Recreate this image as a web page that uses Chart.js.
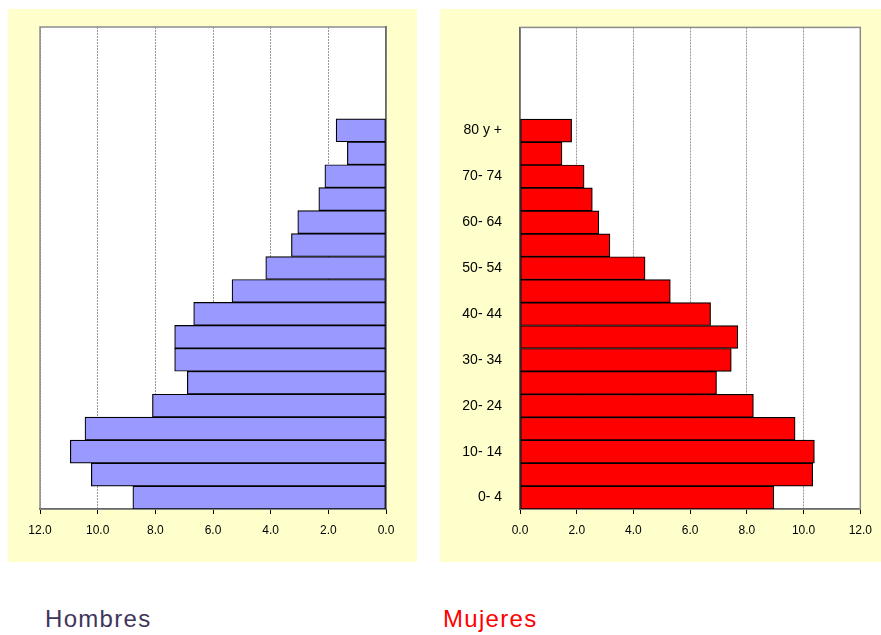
<!DOCTYPE html>
<html>
<head>
<meta charset="utf-8">
<script src="https://cdn.jsdelivr.net/npm/chart.js@4.4.1/dist/chart.umd.min.js"></script>
<style>
  body { margin: 0; background: #fff; width: 881px; height: 635px; position: relative; overflow: hidden; font-family: "Liberation Sans", Arial, sans-serif; }
  .panel { position: absolute; background: #ffffcc; }
  #leftPanel { left: 8px; top: 9px; width: 409px; height: 553px; }
  #rightPanel { left: 440px; top: 9px; width: 441px; height: 553px; }
  .title { position: absolute; top: 607px; font-size: 24px; line-height: 24px; letter-spacing: 1.3px; }
  #tH { left: 45px; color: #3f355c; }
  #tM { left: 443px; color: #ff0000; }
</style>
</head>
<body>
<div class="panel" id="leftPanel"><canvas id="hombresChart" width="409" height="553"></canvas></div>
<div class="panel" id="rightPanel"><canvas id="mujeresChart" width="441" height="553"></canvas></div>
<div class="title" id="tH">Hombres</div>
<div class="title" id="tM">Mujeres</div>

<script>
// age groups from bottom (0-4) upward; the last four slots are empty
const ageGroups = ["0- 4", "5- 9", "10- 14", "15- 19", "20- 24", "25- 29", "30- 34", "35- 39",
  "40- 44", "45- 49", "50- 54", "55- 59", "60- 64", "65- 69", "70- 74", "75- 79", "80 y +",
  "", "", "", ""];

const hombres = [8.78, 10.22, 10.95, 10.44, 8.10, 6.89, 7.33, 7.33, 6.67, 5.34, 4.17, 3.28, 3.06, 2.33, 2.12, 1.34, 1.73];
const mujeres = [8.95, 10.32, 10.38, 9.70, 8.23, 6.93, 7.45, 7.68, 6.72, 5.30, 4.41, 3.17, 2.78, 2.55, 2.26, 1.48, 1.82];

const xTicks = [0, 2, 4, 6, 8, 10, 12];

Chart.defaults.font.family = '"Liberation Sans", Arial, sans-serif';
Chart.defaults.color = "#000";

// white plot area + grey frame
const frame = {
  id: "frame",
  beforeDraw(chart) {
    const a = chart.chartArea;
    const c = chart.ctx;
    c.save();
    c.fillStyle = "#fff";
    c.fillRect(a.left, a.top, a.right - a.left, a.bottom - a.top);
    c.restore();
  },
  beforeDatasetsDraw(chart) {
    const a = chart.chartArea;
    const c = chart.ctx;
    c.save();
    c.strokeStyle = "#8c8c8c";
    c.lineWidth = 1.5;
    c.strokeRect(a.left, a.top, a.right - a.left, a.bottom - a.top);
    c.restore();
  }
};

function makeChart(id, values, color, isLeft) {
  return new Chart(document.getElementById(id), {
    type: "bar",
    data: {
      labels: ageGroups,
      datasets: [{
        data: values,
        backgroundColor: color,
        borderColor: "#000",
        borderWidth: 1.2,
        borderSkipped: false,
        categoryPercentage: 1,
        barPercentage: 1
      }]
    },
    options: {
      indexAxis: "y",
      responsive: false,
      animation: false,
      layout: {
        padding: isLeft
          ? { left: 32, right: 0, top: 18, bottom: 0 }
          : { left: 0, right: 20, top: 18, bottom: 0 }
      },
      plugins: { legend: { display: false }, tooltip: { enabled: false } },
      scales: {
        x: {
          type: "linear",
          min: 0,
          max: 12,
          reverse: isLeft,
          afterBuildTicks: s => { s.ticks = xTicks.map(v => ({ value: v })); },
          afterFit: s => { s.height = 53; },
          ticks: {
            padding: 9,
            font: { size: 12 },
            callback: v => v.toFixed(1)
          },
          grid: {
            color: "#999",
            tickColor: "#000",
            tickLength: 5,
            lineWidth: 1
          },
          border: { color: "#000", width: 1.5, dash: [2, 1] }
        },
        y: {
          position: isLeft ? "right" : "left",
          reverse: true,
          afterFit: s => { s.width = isLeft ? 31 : 80; },
          grid: { display: false },
          border: { color: "#000", width: 1.5 },
          ticks: {
            display: !isLeft,
            autoSkip: false,
            padding: 10,
            font: { size: 14 },
            callback: (v, i) => (i % 2 === 0 ? ageGroups[i] : "")
          }
        }
      }
    },
    plugins: [frame]
  });
}

makeChart("hombresChart", hombres, "#9999ff", true);
makeChart("mujeresChart", mujeres, "#ff0000", false);
</script>
</body>
</html>
